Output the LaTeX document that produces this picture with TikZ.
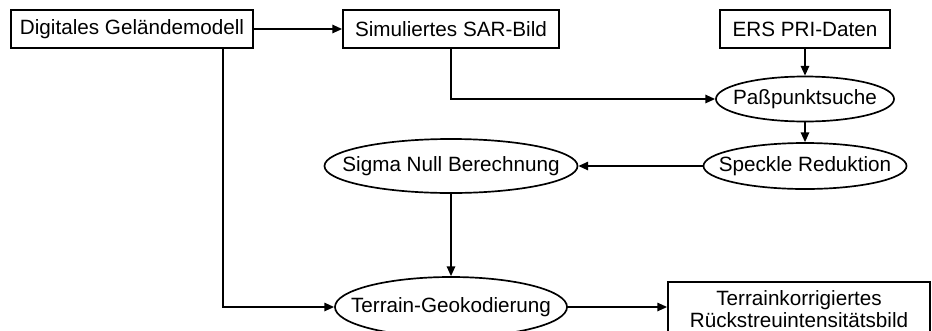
\documentclass[tikz,border=0pt]{standalone}
\usepackage{fontspec}
\setmainfont{Liberation Sans}
\usetikzlibrary{arrows.meta,shapes.geometric}
\tikzset{
	box/.style={draw, line width=1.2pt, rectangle, minimum height=0.95cm, inner sep=0pt, font=\fontsize{14.7}{15.5}\selectfont},
	oval/.style={draw, line width=1.2pt, ellipse, inner sep=0pt, font=\fontsize{14.7}{15.5}\selectfont},
	flow/.style={line width=1.2pt, -{Triangle[length=7pt, width=6pt]}}
}
\newcommand{\ovaltext}[1]{\makebox[0pt]{#1}}

\begin{document}
\begin{tikzpicture}[x=0.025cm, y=-0.025cm]
		%%%%% START %%%%%
		\clip (0, 0) rectangle (932, 330);
		
		% boxes
		\node[box, minimum width=6.05cm] (dgm) at (132, 29) {Digitales Geländemodell};
		\node[box, minimum width=5.4cm] (sim) at (451, 29) {Simuliertes SAR-Bild};
		\node[box, minimum width=4.25cm] (ers) at (805, 29) {ERS PRI-Daten};
		\node[box, minimum width=6.55cm, minimum height=1.35cm, align=center] (result) at (799, 309) {Terrainkorrigiertes\\Rückstreuintensitätsbild};
		
		% ellipses
		\node[oval, minimum width=4.45cm, minimum height=1.125cm] (pass) at (805, 99) {\ovaltext{Paßpunktsuche}};
		\node[oval, minimum width=5.075cm, minimum height=1.15cm] (speckle) at (805, 166) {\ovaltext{Speckle Reduktion}};
		\node[oval, minimum width=6.325cm, minimum height=1.35cm] (sigma) at (451, 166) {\ovaltext{Sigma Null Berechnung}};
		\node[oval, minimum width=5.8cm, minimum height=1.5cm] (terrain) at (451, 307) {\ovaltext{Terrain-Geokodierung}};
		
		% arrows
		\draw[flow] (dgm.east) -- (sim.west);
		\draw[flow] (sim.south) |- (pass.west);
		\draw[flow] (ers.south) -- (pass.north);
		\draw[flow] (pass.south) -- (speckle.north);
		\draw[flow] (speckle.west) -- (sigma.east);
		\draw[flow] (sigma.south) -- (terrain.north);
		\draw[flow] ([xshift=2.275cm]dgm.south) |- (terrain.west);
		\draw[flow] (terrain.east) -- (result.west |- terrain.east);
		
		%%%%% END %%%%%
	\end{tikzpicture}
\end{document}
